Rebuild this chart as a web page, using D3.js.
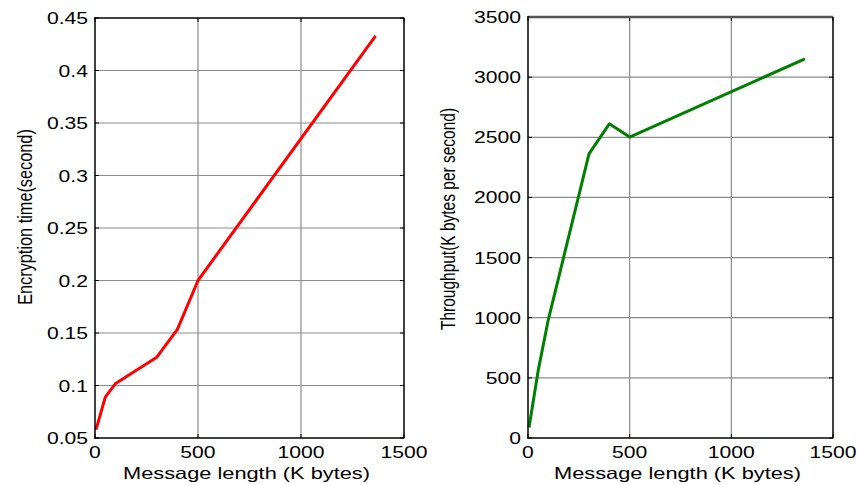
<!DOCTYPE html>
<html>
<head>
<meta charset="utf-8">
<script src="https://cdn.jsdelivr.net/npm/d3@7"></script>
<style>
  body { margin: 0; background: #fff; }
  text { font-family: "Liberation Sans", Arial, sans-serif; fill: #000; }
</style>
</head>
<body>
<svg id="chart" width="858" height="485"></svg>
<script>
// message lengths (K bytes)
var msgLength = [5, 50, 100, 300, 400, 500, 1362];
// encryption time (second)
var encTime = [0.058, 0.089, 0.102, 0.127, 0.1535, 0.2, 0.433];
// throughput (K bytes per second)
var throughput = [88, 560, 985, 2362, 2612, 2502, 3152];

var xTicks = [0, 500, 1000, 1500];
var yTicksLeft = [0.05, 0.1, 0.15, 0.2, 0.25, 0.3, 0.35, 0.4, 0.45];
var yTicksRight = [0, 500, 1000, 1500, 2000, 2500, 3000, 3500];

var svg = d3.select("#chart");
svg.append("rect").attr("width", 858).attr("height", 485).attr("fill", "#fff");

// the picture is stretched sideways, so horizontal text is wider than normal
var stretch = 1.32;

function widen(sel) {
    sel.each(function() {
        var w = this.getComputedTextLength();
        d3.select(this)
            .attr("textLength", w * stretch)
            .attr("lengthAdjust", "spacingAndGlyphs");
    });
}

function panel(opt) {
    var x = d3.scaleLinear().domain([0, 1500]).range([opt.left, opt.right]);
    var y = d3.scaleLinear().domain(opt.yDomain).range([opt.bottom, opt.top]);
    var g = svg.append("g");

    // grid
    g.selectAll(".vgrid").data(xTicks.slice(1, -1)).enter().append("line")
        .attr("x1", d => x(d)).attr("x2", d => x(d))
        .attr("y1", opt.top).attr("y2", opt.bottom)
        .attr("stroke", "#8c8c8c").attr("stroke-width", 1.2);
    g.selectAll(".hgrid").data(opt.yTicks.slice(1, -1)).enter().append("line")
        .attr("x1", opt.left).attr("x2", opt.right)
        .attr("y1", d => y(d)).attr("y2", d => y(d))
        .attr("stroke", "#8c8c8c").attr("stroke-width", 1.2);

    // inward ticks on all four sides
    var tk = 4;
    g.selectAll(".tb").data(xTicks).enter().append("line")
        .attr("x1", d => x(d)).attr("x2", d => x(d))
        .attr("y1", opt.bottom).attr("y2", opt.bottom - tk)
        .attr("stroke", "#000");
    g.selectAll(".tt").data(xTicks).enter().append("line")
        .attr("x1", d => x(d)).attr("x2", d => x(d))
        .attr("y1", opt.top).attr("y2", opt.top + tk)
        .attr("stroke", "#000");
    g.selectAll(".tl").data(opt.yTicks).enter().append("line")
        .attr("x1", opt.left).attr("x2", opt.left + tk)
        .attr("y1", d => y(d)).attr("y2", d => y(d))
        .attr("stroke", "#000");
    g.selectAll(".tr").data(opt.yTicks).enter().append("line")
        .attr("x1", opt.right).attr("x2", opt.right - tk)
        .attr("y1", d => y(d)).attr("y2", d => y(d))
        .attr("stroke", "#000");

    // data line
    var line = d3.line().x((d, i) => x(msgLength[i])).y(d => y(d));
    g.append("path")
        .datum(opt.values)
        .attr("d", line)
        .attr("fill", "none")
        .attr("stroke", opt.color)
        .attr("stroke-width", 3)
        .attr("stroke-linejoin", "round");

    // frame
    g.append("line").attr("x1", opt.left).attr("x2", opt.right)
        .attr("y1", opt.top).attr("y2", opt.top)
        .attr("stroke", opt.topColor).attr("stroke-width", opt.topWidth);
    g.append("line").attr("x1", opt.right).attr("x2", opt.right)
        .attr("y1", opt.top).attr("y2", opt.bottom)
        .attr("stroke", "#000").attr("stroke-width", 1.5);
    g.append("line").attr("x1", opt.left).attr("x2", opt.left)
        .attr("y1", opt.top - 1).attr("y2", opt.bottom + 1)
        .attr("stroke", "#000").attr("stroke-width", 1.5);
    g.append("line").attr("x1", opt.left).attr("x2", opt.right)
        .attr("y1", opt.bottom).attr("y2", opt.bottom)
        .attr("stroke", "#000").attr("stroke-width", 1.5);

    // tick labels
    g.selectAll(".xl").data(xTicks).enter().append("text")
        .attr("x", d => x(d)).attr("y", opt.bottom + 20)
        .attr("text-anchor", "middle")
        .style("font-size", "16px")
        .text(d => d)
        .call(widen);
    g.selectAll(".yl").data(opt.yTicks).enter().append("text")
        .attr("x", opt.left - 7).attr("y", d => y(d) + 6)
        .attr("text-anchor", "end")
        .style("font-size", "16px")
        .text(d => d)
        .call(widen);

    // axis titles
    g.append("text")
        .attr("x", (opt.left + opt.right) / 2 - 3).attr("y", 479)
        .attr("text-anchor", "middle")
        .style("font-size", "16.5px")
        .text("Message length (K bytes)")
        .call(widen);
    g.append("text")
        .attr("transform", "translate(" + opt.labelX + "," + opt.labelY + ") scale(1.25,1) rotate(-90)")
        .attr("text-anchor", "middle")
        .style("font-size", opt.labelSize)
        .text(opt.label);
}

panel({
    left: 95, right: 404, top: 18, bottom: 438,
    yDomain: [0.05, 0.45], yTicks: yTicksLeft,
    values: encTime, color: "#ff0000",
    topColor: "#000", topWidth: 1.5,
    label: "Encryption time(second)", labelX: 32, labelY: 217, labelSize: "16.3px"
});

panel({
    left: 528, right: 833, top: 17, bottom: 438,
    yDomain: [0, 3500], yTicks: yTicksRight,
    values: throughput, color: "#008000",
    topColor: "#555", topWidth: 2.5,
    label: "Throughput(K bytes per second)", labelX: 455, labelY: 219, labelSize: "15.5px"
});
</script>
</body>
</html>
